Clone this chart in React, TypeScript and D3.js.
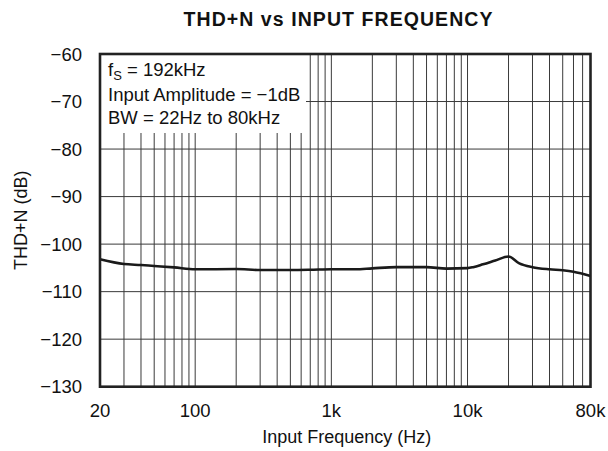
import React from "react";
import * as d3 from "d3";

const freqs = [20, 30, 40, 50, 70, 100, 200, 300, 500, 700, 1000, 1500, 2000, 3000, 5000, 7000, 10000, 11000, 13000, 16000, 20000, 24000, 30000, 40000, 50000, 60000, 80000];
const thdn = [-103.2, -104.2, -104.4, -104.6, -104.9, -105.3, -105.25, -105.45, -105.45, -105.4, -105.3, -105.3, -105.1, -104.85, -104.85, -105.15, -105.05, -104.85, -104.25, -103.45, -102.6, -104.05, -104.85, -105.3, -105.5, -105.8, -106.7];
const yTicks = [-60, -70, -80, -90, -100, -110, -120, -130];
const xTickValues = [20, 100, 1000, 10000, 80000];
const xTickLabels = ["20", "100", "1k", "10k", "80k"];
const gridFreqs: number[] = (() => {
  const out: number[] = [];
  for (let dec = 10; dec <= 10000; dec *= 10) {
    for (let m = 1; m <= 9; m++) {
      const f = m * dec;
      if (f > 20 && f < 80000) out.push(f);
    }
  }
  return out;
})();
const legendLines = ["Input Amplitude = \u22121dB", "BW = 22Hz to 80kHz"];

const W = 608;
const H = 451;
const L = 100;
const R = 590.5;
const T = 54;
const B = 386.7;

export default function App() {
  const x = d3.scaleLog().domain([20, 80000]).range([L, R]);
  const y = d3.scaleLinear().domain([-130, -60]).range([B, T]);
  const line = d3
    .line<number>()
    .x((_, i) => x(freqs[i]))
    .y((d) => y(d))
    .curve(d3.curveMonotoneX);
  const font = "'Liberation Sans', Arial, Helvetica, sans-serif";
  const boxR = 306;
  const boxB = 133;
  const gridColor = "#3a3a3a";
  return (
    <svg
      width={W}
      height={H}
      style={{ position: "absolute", left: 0, top: 0, background: "#fff" }}
      fontFamily={font}
    >
      <rect x={0} y={0} width={W} height={H} fill="#fff" />
      <text x={338} y={26} textAnchor="middle" fontWeight="bold" fontSize={19.5} fill="#111" textLength={309} lengthAdjust="spacing">
        THD+N vs INPUT FREQUENCY
      </text>
      {yTicks.map((t) => (
        <line key={"h" + t} x1={L} x2={R} y1={y(t)} y2={y(t)} stroke={gridColor} strokeWidth={1} />
      ))}
      {gridFreqs.map((f) => (
        <line key={"v" + f} x1={x(f)} x2={x(f)} y1={T} y2={B} stroke={gridColor} strokeWidth={1} />
      ))}
      <rect x={L} y={T} width={boxR - L} height={boxB - T} fill="#fff" />
      <text x={108} y={76} fontSize={18.5} fill="#111">
        f
        <tspan fontSize={13} dy={4}>S</tspan>
        <tspan dy={-4}> = 192kHz</tspan>
      </text>
      {legendLines.map((s, i) => (
        <text key={s} x={108} y={[101, 124][i]} fontSize={18.5} fill="#111">
          {s}
        </text>
      ))}
      <path d={line(thdn) || ""} fill="none" stroke="#1a1a1a" strokeWidth={2.6} strokeLinejoin="round" />
      <rect x={L} y={T} width={R - L} height={B - T} fill="none" stroke="#222" strokeWidth={2.6} />
      {yTicks.map((t) => (
        <text key={"yl" + t} x={82} y={y(t)} dy="0.36em" textAnchor="end" fontSize={18.5} fill="#111">
          {"\u2212" + Math.abs(t)}
        </text>
      ))}
      {xTickValues.map((f, i) => (
        <text key={"xl" + f} x={x(f)} y={416.5} textAnchor="middle" fontSize={18.5} fill="#111">
          {xTickLabels[i]}
        </text>
      ))}
      <text x={346.7} y={443} textAnchor="middle" fontSize={18} fill="#111">
        Input Frequency (Hz)
      </text>
      <text transform={`translate(27,${(T + B) / 2}) rotate(-90)`} textAnchor="middle" fontSize={18} fill="#111">
        THD+N (dB)
      </text>
    </svg>
  );
}
